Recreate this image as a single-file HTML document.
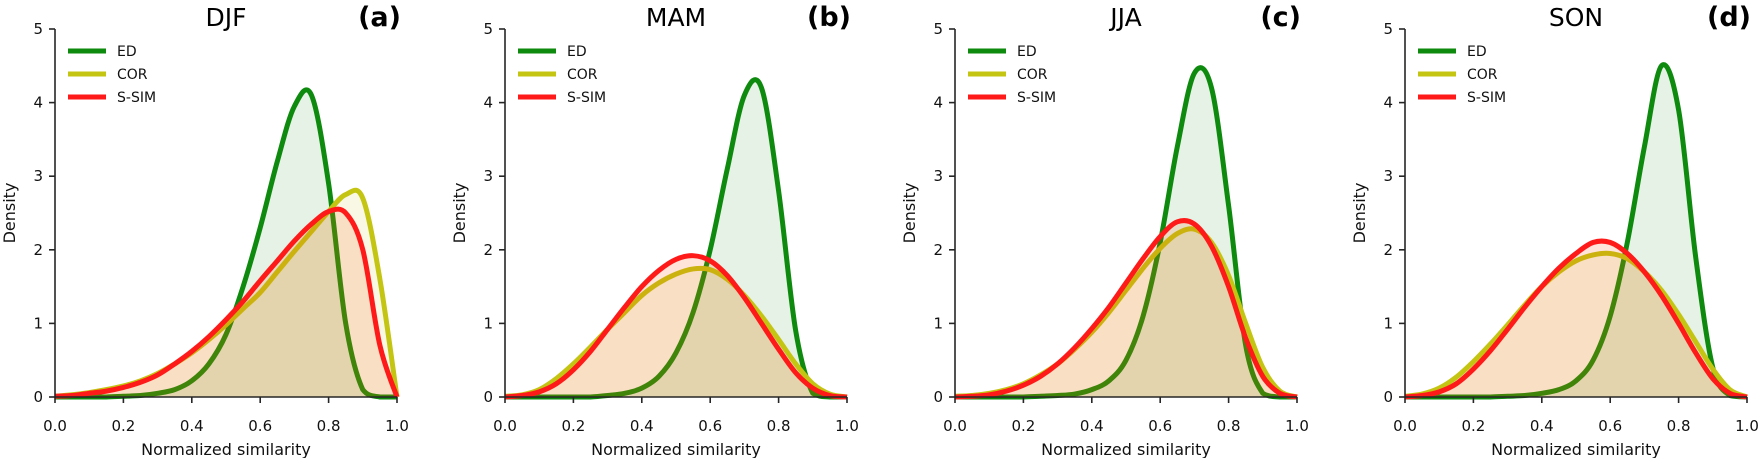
<!DOCTYPE html>
<html><head><meta charset="utf-8"><style>
html,body{margin:0;padding:0;background:#fff;}
svg{display:block;font-family:"DejaVu Sans","Liberation Sans",sans-serif;}
</style></head><body>
<svg id="chart" width="1759" height="458" viewBox="0 0 1759 458"></svg>
<script>
const xs=[0,0.05,0.1,0.15,0.2,0.25,0.3,0.35,0.4,0.45,0.5,0.55,0.6,0.65,0.7,0.75,0.8,0.85,0.9,0.95,1];
const panelTitles=["DJF","MAM","JJA","SON"];
const panelLetters=["(a)","(b)","(c)","(d)"];
const xTicks=[0,0.2,0.4,0.6,0.8,1.0];
const yTicks=[0,1,2,3,4,5];
const seriesNames=["ED","COR","S-SIM"];
const edA=[0,0,0,0,0.01,0.02,0.05,0.1,0.22,0.45,0.85,1.5,2.3,3.2,3.95,4.1,2.9,1.0,0.1,0,0];
const corA=[0.01,0.03,0.06,0.1,0.15,0.22,0.32,0.45,0.6,0.78,0.98,1.2,1.42,1.7,1.98,2.25,2.52,2.75,2.7,1.6,0];
const ssimA=[0.01,0.02,0.05,0.08,0.13,0.2,0.3,0.45,0.62,0.82,1.05,1.3,1.58,1.85,2.12,2.35,2.52,2.5,2.0,0.7,0];
const edB=[0,0,0,0,0,0,0.02,0.05,0.12,0.28,0.6,1.15,2.0,3.1,4.1,4.2,2.8,0.9,0.05,0,0];
const corB=[0.01,0.03,0.1,0.25,0.45,0.68,0.92,1.15,1.38,1.55,1.67,1.74,1.73,1.6,1.38,1.1,0.78,0.45,0.18,0.04,0];
const ssimB=[0,0.02,0.07,0.18,0.37,0.62,0.92,1.22,1.5,1.72,1.87,1.92,1.85,1.65,1.35,1.0,0.65,0.33,0.12,0.02,0];
const edC=[0,0,0,0,0,0.01,0.02,0.04,0.1,0.22,0.5,1.1,2.1,3.4,4.4,4.2,2.6,0.7,0.05,0,0];
const corC=[0.01,0.02,0.05,0.1,0.18,0.3,0.45,0.65,0.88,1.15,1.45,1.75,2.02,2.22,2.28,2.1,1.65,1.0,0.4,0.08,0];
const ssimC=[0,0.01,0.03,0.08,0.16,0.28,0.45,0.67,0.93,1.22,1.55,1.88,2.18,2.38,2.35,2.05,1.5,0.8,0.28,0.05,0];
const edD=[0,0,0,0,0,0,0.01,0.02,0.05,0.1,0.22,0.5,1.1,2.1,3.4,4.5,3.9,1.9,0.4,0.02,0];
const corD=[0.01,0.04,0.12,0.27,0.48,0.72,0.98,1.25,1.5,1.7,1.85,1.93,1.95,1.88,1.7,1.45,1.12,0.75,0.38,0.1,0];
const ssimD=[0,0.02,0.07,0.18,0.38,0.63,0.92,1.22,1.5,1.75,1.95,2.1,2.1,1.95,1.7,1.38,1.0,0.6,0.25,0.05,0];

const panelData=[[edA,corA,ssimA],[edB,corB,ssimB],[edC,corC,ssimC],[edD,corD,ssimD]];
const lineColors=["#0e8a0e","#c4c412","#ff1a1a"];
const fillColors=["rgba(0,128,0,0.1)","rgba(191,191,0,0.1)","rgba(255,80,0,0.15)"];
const NS="http://www.w3.org/2000/svg";
const svg=document.getElementById('chart');
function mk(tag,attrs,parent){const e=document.createElementNS(NS,tag);for(const k in attrs)e.setAttribute(k,attrs[k]);(parent||svg).appendChild(e);return e;}
const W=342,Y0=397,Y5=29;
function yScale(v){return Y0-(v/5)*(Y0-Y5);}
function pathFor(xf,vals){
  const pts=xs.map((x,i)=>[xf(x),yScale(Math.max(0,vals[i]))]);
  let d="M"+pts[0][0]+","+pts[0][1];
  for(let i=0;i<pts.length-1;i++){
    const p0=pts[Math.max(0,i-1)],p1=pts[i],p2=pts[i+1],p3=pts[Math.min(pts.length-1,i+2)];
    let c1y=p1[1]+(p2[1]-p0[1])/6,c2y=p2[1]-(p3[1]-p1[1])/6;
    c1y=Math.min(c1y,Y0);c2y=Math.min(c2y,Y0);
    d+=" C"+(p1[0]+(p2[0]-p0[0])/6)+","+c1y+" "+(p2[0]-(p3[0]-p1[0])/6)+","+c2y+" "+p2[0]+","+p2[1];
  }
  return d;
}
panelTitles.forEach((t,p)=>{
  const X0=55+p*450;
  const xf=v=>X0+v*W;
  const g=mk('g',{});
  
  
  panelData[p].forEach((vals,s)=>{
    const d=pathFor(xf,vals);
    const f=mk('path',{d:d+" L"+xf(1)+","+Y0+" L"+xf(0)+","+Y0+" Z",fill:fillColors[s],stroke:"none"},g);
    
    
    const l=mk('path',{d:d,fill:"none",stroke:lineColors[s],"stroke-width":5,"stroke-linejoin":"round"},g);
    
    
  });
  const ax=mk('path',{d:`M${X0},${Y5} L${X0},${Y0} L${X0+W},${Y0}`,fill:"none",stroke:"#262626","stroke-width":1.6},g);
  
  
  xTicks.forEach(v=>{
    mk('line',{x1:xf(v),x2:xf(v),y1:Y0,y2:Y0+6,stroke:"#262626","stroke-width":1.6},g);
    const tx=mk('text',{x:xf(v),y:431,"text-anchor":"middle","font-size":15,fill:"#111"},g);
    tx.textContent=v.toFixed(1);
    
    
  });
  yTicks.forEach(v=>{
    mk('line',{x1:X0-6,x2:X0,y1:yScale(v),y2:yScale(v),stroke:"#262626","stroke-width":1.6},g);
    const ty=mk('text',{x:X0-12,y:yScale(v)+5,"text-anchor":"end","font-size":15,fill:"#111"},g);
    ty.textContent=v;
    
    
  });
  const xl=mk('text',{x:X0+W/2,y:455,"text-anchor":"middle","font-size":16,fill:"#111"},g);
  xl.textContent="Normalized similarity";
  
  
  const yl=mk('text',{x:0,y:0,"text-anchor":"middle","font-size":16,fill:"#111",transform:`translate(${X0-40},${Y0-184}) rotate(-90)`},g);
  yl.textContent="Density";
  
  
  const tt=mk('text',{x:X0+W/2,y:26,"text-anchor":"middle","font-size":25,fill:"#000"},g);
  tt.textContent=t;
  
  
  const lt=mk('text',{x:X0+W+4,y:26,"text-anchor":"end","font-size":27,"font-weight":"bold",fill:"#000"},g);
  lt.textContent=panelLetters[p];
  
  
  seriesNames.forEach((n,s)=>{
    const ly=51+s*23;
    const ll=mk('line',{x1:X0+13,x2:X0+51,y1:ly,y2:ly,stroke:lineColors[s],"stroke-width":5},g);
    
    
    const lx=mk('text',{x:X0+62,y:ly+5,"font-size":14,fill:"#111"},g);
    lx.textContent=n;
    
    
  });
});
</script>
</body></html>
